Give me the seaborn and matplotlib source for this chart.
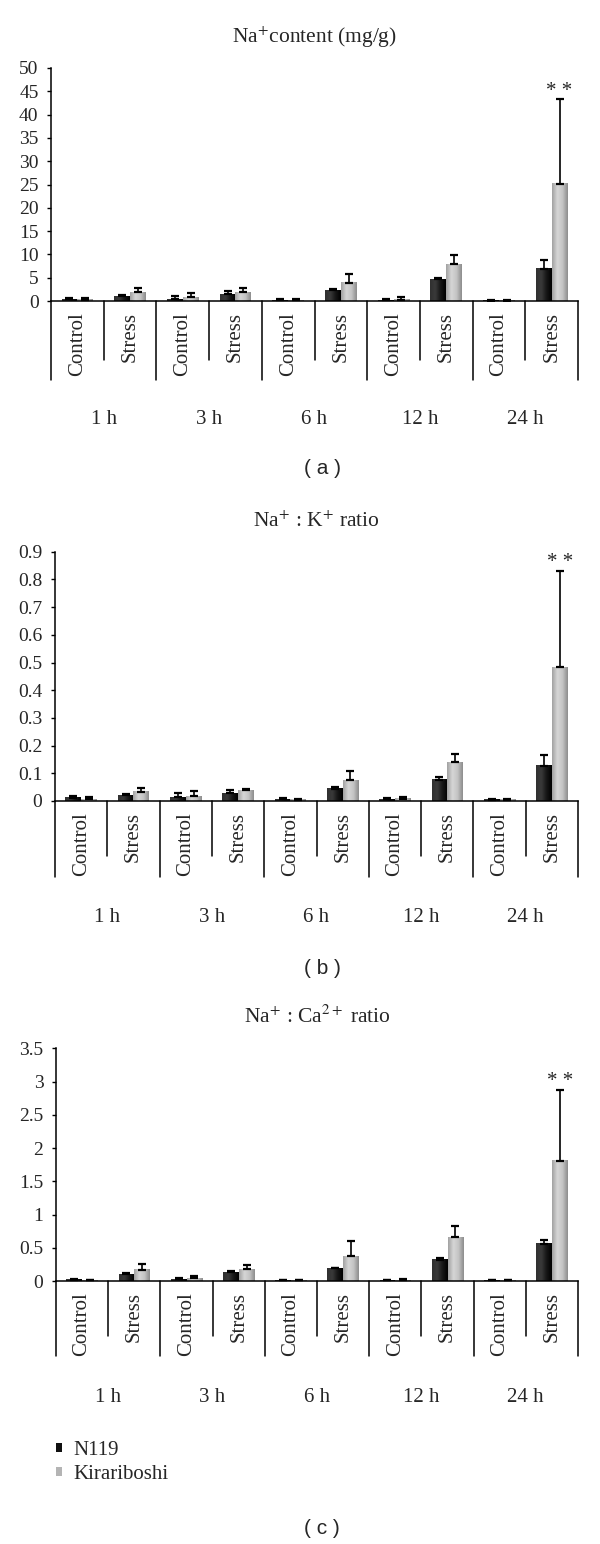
import numpy as np
import pandas as pd
import matplotlib
matplotlib.use("Agg")
import matplotlib.pyplot as plt
import seaborn as sns
from matplotlib.colors import LinearSegmentedColormap

times = ["1 h", "3 h", "6 h", "12 h", "24 h"]
treatments = ["Control", "Stress"]
cultivars = ["N119", "Kirariboshi"]

# Na+ content (mg/g)
na_n119 = [0.4, 1.0, 0.4, 1.4, 0.2, 2.3, 0.2, 4.7, 0.1, 6.9]
na_n119_sd = [0.3, 0.3, 0.6, 0.8, 0.2, 0.2, 0.3, 0.2, 0.2, 1.8]
na_kira = [0.3, 1.9, 0.8, 1.9, 0.2, 3.9, 0.3, 7.9, 0.1, 25.2]
na_kira_sd = [0.3, 0.8, 0.9, 0.8, 0.2, 1.9, 0.6, 1.9, 0.2, 18.2]

# Na+:K+ ratio
nak_n119 = [0.012, 0.020, 0.014, 0.028, 0.006, 0.044, 0.006, 0.077, 0.004, 0.127]
nak_n119_sd = [0.006, 0.005, 0.014, 0.012, 0.005, 0.006, 0.006, 0.011, 0.003, 0.040]
nak_kira = [0.007, 0.034, 0.018, 0.039, 0.005, 0.075, 0.008, 0.139, 0.004, 0.482]
nak_kira_sd = [0.006, 0.014, 0.017, 0.006, 0.004, 0.035, 0.007, 0.029, 0.003, 0.350]

# Na+:Ca2+ ratio
naca_n119 = [0.02, 0.10, 0.025, 0.13, 0.01, 0.19, 0.01, 0.32, 0.01, 0.56]
naca_n119_sd = [0.01, 0.02, 0.015, 0.02, 0.01, 0.01, 0.01, 0.02, 0.005, 0.05]
naca_kira = [0.01, 0.17, 0.04, 0.18, 0.01, 0.37, 0.01, 0.66, 0.01, 1.81]
naca_kira_sd = [0.005, 0.09, 0.04, 0.06, 0.01, 0.23, 0.02, 0.16, 0.005, 1.07]

titles = [r"Na$^{+}$content (mg/g)", r"Na$^{+}$ : K$^{+}$ ratio", r"Na$^{+}$ : Ca$^{2+}$ ratio"]
panel_tags = ["( a )", "( b )", "( c )"]
yticks = [np.arange(0, 51, 5), np.arange(0, 0.91, 0.1), np.arange(0, 3.51, 0.5)]

sns.set_theme(style="white")
plt.rcParams["font.family"] = ["Liberation Serif", "DejaVu Serif"]
plt.rcParams["mathtext.fontset"] = "stix"

W, H = 600, 1544
fig = plt.figure(figsize=(W / 100, H / 100), dpi=100)

# left, top, right, bottom (px), title y, group label y, tag y, short/long divider
layout = [
    (51, 68, 578, 301, 37, 420, 468, 59, 79),
    (55, 551.7, 578, 801, 522, 918, 968, 55, 76),
    (56, 1048.3, 578, 1281, 1017, 1397, 1528, 55, 75),
]

cats = [f"{t} {tr}" for t in times for tr in treatments]
cmap_n = LinearSegmentedColormap.from_list("n119", ["#303030", "#3a3a3a", "#161616", "#000000"])
cmap_k = LinearSegmentedColormap.from_list("kira", ["#a0a0a0", "#d6d6d6", "#c4c4c4", "#8c8c8c"])
grad = np.linspace(0, 1, 64).reshape(1, -1)

series = [
    (na_n119, na_n119_sd, na_kira, na_kira_sd),
    (nak_n119, nak_n119_sd, nak_kira, nak_kira_sd),
    (naca_n119, naca_n119_sd, naca_kira, naca_kira_sd),
]

for i, ((n, nsd, k, ksd), (L, T, R, B, ty, gy, py, short, long_)) in enumerate(zip(series, layout)):
    ax = fig.add_axes([L / W, 1 - B / H, (R - L) / W, (B - T) / H])
    hpx = B - T
    df = pd.DataFrame({
        "cat": cats * 2,
        "cultivar": ["N119"] * 10 + ["Kirariboshi"] * 10,
        "value": n + k,
    })
    last = i == 2
    sns.barplot(data=df, x="cat", y="value", hue="cultivar", order=cats,
                hue_order=cultivars, palette=["#111111", "#b4b4b4"], saturation=1,
                width=0.6, errorbar=None, linewidth=0, ax=ax, legend=last)

    for cont, sd, cmap in zip(ax.containers, [nsd, ksd], [cmap_n, cmap_k]):
        xs, hs = [], []
        for b in cont:
            x0, w, h = b.get_x(), b.get_width(), b.get_height()
            ax.imshow(grad, cmap=cmap, extent=[x0, x0 + w, 0, h], aspect="auto",
                      interpolation="bicubic", zorder=2)
            xs.append(x0 + w / 2)
            hs.append(h)
        ax.errorbar(xs, hs, yerr=[np.zeros(len(sd)), sd], fmt="none", ecolor="black",
                    elinewidth=1.2, capsize=3, capthick=1.6, zorder=3)
        if cmap is cmap_k:
            # significance mark over the 24 h stress bar
            ax.annotate("* *", xy=(xs[-1], hs[-1] + sd[-1]), xytext=(0, 5.5),
                        textcoords="offset points", ha="center", va="center", fontsize=15)

    ymax = yticks[i][-1]
    ax.set_xlim(-0.5, 9.5)
    ax.set_ylim(0, ymax)
    ax.set_yticks(yticks[i])
    ax.set_yticklabels([f"{v:g}" for v in yticks[i]])
    ax.set_xticks(range(10))
    ax.set_xticklabels(treatments * 5, rotation=90)
    ax.set_xlabel("")
    ax.set_ylabel("")
    sns.despine(ax=ax)
    for s in ["left", "bottom"]:
        ax.spines[s].set_color("black")
        ax.spines[s].set_linewidth(1.1)
        ax.spines[s].set_zorder(4)
    ax.tick_params(axis="y", left=True, length=3, width=1, color="black", pad=6, labelsize=14)
    ax.tick_params(axis="x", length=0, pad=8, labelsize=15)

    trans = ax.get_xaxis_transform()
    for j in range(11):
        xb = j - 0.5
        depth = long_ if j % 2 == 0 else short
        ax.plot([xb, xb], [0, -depth / hpx], color="black", lw=1.1, transform=trans, clip_on=False)
    for g, t in enumerate(times):
        ax.text(2 * g + 0.5, -(gy - B) / hpx, t, transform=trans, ha="center", va="center", fontsize=15)

    cx = (L + R) / 2 / W
    fig.text(cx, 1 - ty / H, titles[i], ha="center", va="center", fontsize=15.5)
    fig.text(322 / W, 1 - py / H, panel_tags[i], ha="center", va="center", fontsize=15,
             family=["Liberation Sans", "DejaVu Sans"])

    if last:
        leg = ax.get_legend()
        handles = leg.legend_handles
        labels = [t.get_text() for t in leg.get_texts()]
        leg.remove()
        ax.legend(handles, labels, loc="upper left", bbox_to_anchor=(56 / W, 1 - 1441 / H),
                  bbox_transform=fig.transFigure, frameon=False, fontsize=15,
                  handlelength=0.3, handleheight=0.3, handletextpad=0.55,
                  labelspacing=0.25, borderpad=0, borderaxespad=0)

fig.savefig("out.png", dpi=100, facecolor="white")
